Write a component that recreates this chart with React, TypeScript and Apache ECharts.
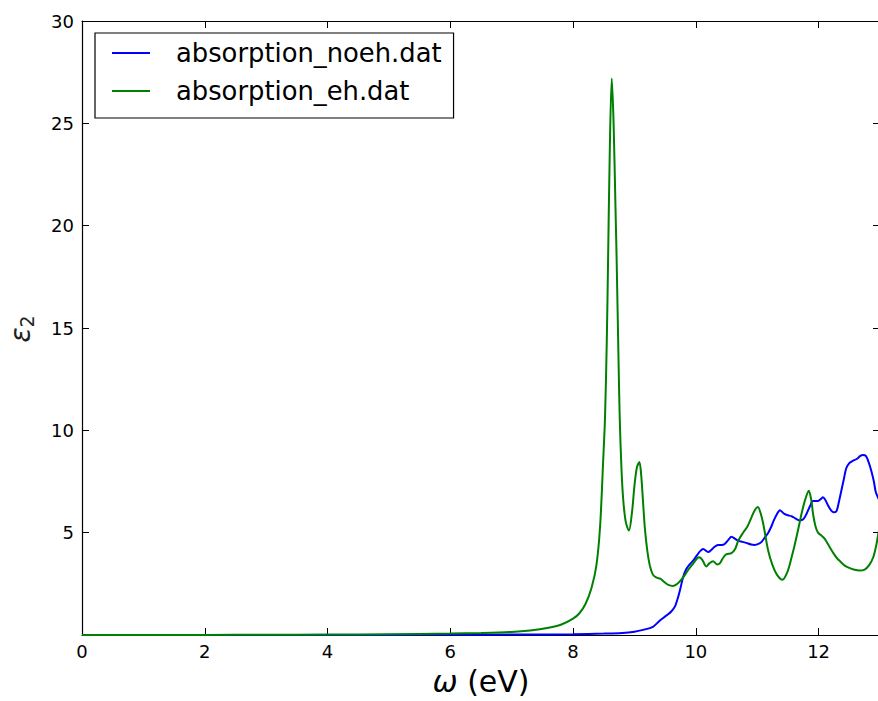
import React, { useEffect, useRef } from "react";
import * as echarts from "echarts";

const seriesNames = ["absorption_noeh.dat", "absorption_eh.dat"];
const xTicks = [0, 2, 4, 6, 8, 10, 12];
const yTicks = [5, 10, 15, 20, 25, 30];

const noeh: number[][] = [
  [0, 0], [5, 0.005], [6, 0.01], [7, 0.02], [8, 0.04], [8.5, 0.07], [8.8, 0.1], [9.0, 0.16],
  [9.14, 0.25], [9.3, 0.4], [9.41, 0.7], [9.52, 0.95], [9.6, 1.15], [9.66, 1.4], [9.71, 1.84],
  [9.75, 2.3], [9.79, 2.8], [9.84, 3.2], [9.9, 3.45], [9.96, 3.65], [10.02, 3.9], [10.07, 4.1],
  [10.12, 4.2], [10.2, 4.05], [10.25, 4.15], [10.3, 4.3], [10.36, 4.4], [10.42, 4.4], [10.47, 4.45],
  [10.53, 4.65], [10.58, 4.8], [10.64, 4.7], [10.69, 4.6], [10.76, 4.55], [10.82, 4.5], [10.9, 4.42],
  [10.96, 4.4], [11.02, 4.45], [11.07, 4.55], [11.12, 4.75], [11.18, 5.0], [11.23, 5.3], [11.27, 5.6],
  [11.32, 5.9], [11.37, 6.1], [11.41, 6.0], [11.45, 5.9], [11.5, 5.85], [11.56, 5.8], [11.62, 5.7],
  [11.69, 5.6], [11.75, 5.65], [11.8, 5.9], [11.86, 6.3], [11.91, 6.55], [11.99, 6.55], [12.04, 6.65],
  [12.07, 6.73], [12.11, 6.6], [12.15, 6.35], [12.2, 6.1], [12.24, 6.0], [12.29, 6.05], [12.33, 6.5],
  [12.37, 7.05], [12.41, 7.6], [12.45, 8.15], [12.5, 8.4], [12.55, 8.5], [12.62, 8.6], [12.68, 8.75],
  [12.72, 8.8], [12.77, 8.75], [12.82, 8.4], [12.86, 8.0], [12.9, 7.5], [12.93, 7.0], [12.97, 6.7],
  [13.0, 6.5],
];

const eh: number[][] = [
  [0, 0], [1, 0.002], [2, 0.005], [3, 0.01], [4, 0.02], [5, 0.04], [6, 0.07], [6.5, 0.1], [7, 0.15],
  [7.3, 0.22], [7.6, 0.35], [7.8, 0.5], [8.0, 0.8], [8.1, 1.05], [8.2, 1.5], [8.3, 2.3], [8.38, 3.4],
  [8.44, 5.3], [8.49, 8.5], [8.52, 10.6], [8.55, 14.5], [8.57, 18.3], [8.6, 24], [8.63, 27.2],
  [8.66, 25], [8.69, 21], [8.71, 18.3], [8.74, 13.5], [8.76, 10.6], [8.79, 8], [8.82, 6.5],
  [8.86, 5.5], [8.91, 5.1], [8.96, 6], [9.0, 7.3], [9.04, 8.2], [9.08, 8.45], [9.11, 7.8],
  [9.14, 6.5], [9.17, 5.2], [9.21, 4.1], [9.25, 3.4], [9.3, 2.95], [9.36, 2.8], [9.42, 2.75],
  [9.48, 2.6], [9.55, 2.45], [9.63, 2.4], [9.7, 2.5], [9.79, 2.8], [9.88, 3.2], [9.96, 3.5],
  [10.05, 3.8], [10.1, 3.7], [10.17, 3.35], [10.22, 3.5], [10.28, 3.6], [10.35, 3.45], [10.39, 3.5],
  [10.45, 3.8], [10.5, 3.95], [10.58, 4.0], [10.64, 4.2], [10.69, 4.6], [10.77, 5.0], [10.84, 5.3],
  [10.9, 5.7], [10.96, 6.1], [11.01, 6.25], [11.06, 5.9], [11.1, 5.4], [11.18, 4.1], [11.25, 3.4],
  [11.32, 2.95], [11.41, 2.7], [11.5, 3.15], [11.56, 3.8], [11.61, 4.4], [11.67, 5.2], [11.72, 5.9],
  [11.78, 6.6], [11.84, 7.05], [11.88, 6.6], [11.91, 5.9], [11.95, 5.3], [11.99, 5.0], [12.05, 4.85],
  [12.1, 4.7], [12.17, 4.35], [12.24, 4.0], [12.3, 3.75], [12.35, 3.6], [12.42, 3.4], [12.48, 3.3],
  [12.57, 3.2], [12.67, 3.15], [12.75, 3.2], [12.82, 3.4], [12.89, 3.8], [12.94, 4.4], [12.97, 4.9],
  [13.0, 5.3],
];

const colors = ["#0000ff", "#008000"];
const FONT = "DejaVu Sans";

export default function App() {
  const ref = useRef<HTMLDivElement>(null);
  useEffect(() => {
    if (!ref.current) return;
    const chart = echarts.init(ref.current, undefined, { renderer: "svg" });
    const axisCommon = {
      type: "value" as const,
      axisLine: { show: true, onZero: false, lineStyle: { color: "#000", width: 1.2 } },
      axisTick: { show: true, inside: true, length: 7, lineStyle: { color: "#000", width: 1 } },
      splitLine: { show: false },
    };
    chart.setOption({
      animation: false,
      backgroundColor: "#fff",
      grid: { left: 82, top: 21, width: 798, height: 617 },
      legend: {
        orient: "vertical",
        left: 95,
        top: 33,
        data: seriesNames,
        icon: "rect",
        itemWidth: 38,
        itemHeight: 2,
        itemGap: 8,
        padding: [5, 12, 12, 17],
        backgroundColor: "#fff",
        borderColor: "#000",
        borderWidth: 1.2,
        borderRadius: 0,
        textStyle: {
          fontFamily: FONT,
          fontSize: 25.8,
          color: "#000",
          lineHeight: 30,
          padding: [0, 0, 0, 21],
        },
      },
      xAxis: [
        {
          ...axisCommon,
          position: "bottom",
          min: 0,
          max: 13,
          interval: 2,
          axisLabel: {
            show: true,
            margin: 7,
            color: "#000",
            fontFamily: FONT,
            fontSize: 18,
            formatter: (v: number) => (xTicks.includes(v) ? String(v) : ""),
          },
          name: "{w|ω} (eV)",
          nameLocation: "middle",
          nameGap: 31,
          nameTextStyle: {
            fontFamily: FONT,
            fontSize: 30,
            color: "#000",
            rich: {
              w: { fontFamily: FONT, fontSize: 30, fontStyle: "italic", color: "#000" },
            },
          },
        },
        {
          ...axisCommon,
          position: "top",
          min: 0,
          max: 13,
          interval: 2,
          axisLabel: { show: false },
        },
      ],
      yAxis: [
        {
          ...axisCommon,
          position: "left",
          min: 0,
          max: 30,
          interval: 5,
          axisLabel: {
            show: true,
            margin: 8,
            color: "#000",
            fontFamily: FONT,
            fontSize: 18,
            formatter: (v: number) => (yTicks.includes(v) ? String(v) : ""),
          },
        },
        {
          ...axisCommon,
          position: "right",
          min: 0,
          max: 30,
          interval: 5,
          axisLabel: { show: false },
        },
      ],
      graphic: [
        {
          type: "text",
          x: 20,
          y: 329,
          rotation: Math.PI / 2,
          style: {
            text: "{e|ε}{s|2}",
            align: "center",
            verticalAlign: "middle",
            rich: {
              e: { fontFamily: FONT, fontSize: 28, fontStyle: "italic", fill: "#222", lineHeight: 30 },
              s: { fontFamily: FONT, fontSize: 19, fill: "#222", padding: [14, 0, 0, 0] },
            },
          },
        },
      ],
      series: [
        {
          name: seriesNames[0],
          type: "line",
          data: noeh,
          symbol: "none",
          smooth: 0.3,
          lineStyle: { color: colors[0], width: 2 },
          itemStyle: { color: colors[0] },
          z: 2,
        },
        {
          name: seriesNames[1],
          type: "line",
          data: eh,
          symbol: "none",
          smooth: 0.3,
          lineStyle: { color: colors[1], width: 2 },
          itemStyle: { color: colors[1] },
          z: 3,
        },
      ],
    });
    return () => chart.dispose();
  }, []);
  return (
    <div style={{ position: "fixed", left: 0, top: 0, width: 878, height: 701, overflow: "hidden", background: "#fff" }}>
      <div ref={ref} style={{ width: 900, height: 701 }} />
    </div>
  );
}
